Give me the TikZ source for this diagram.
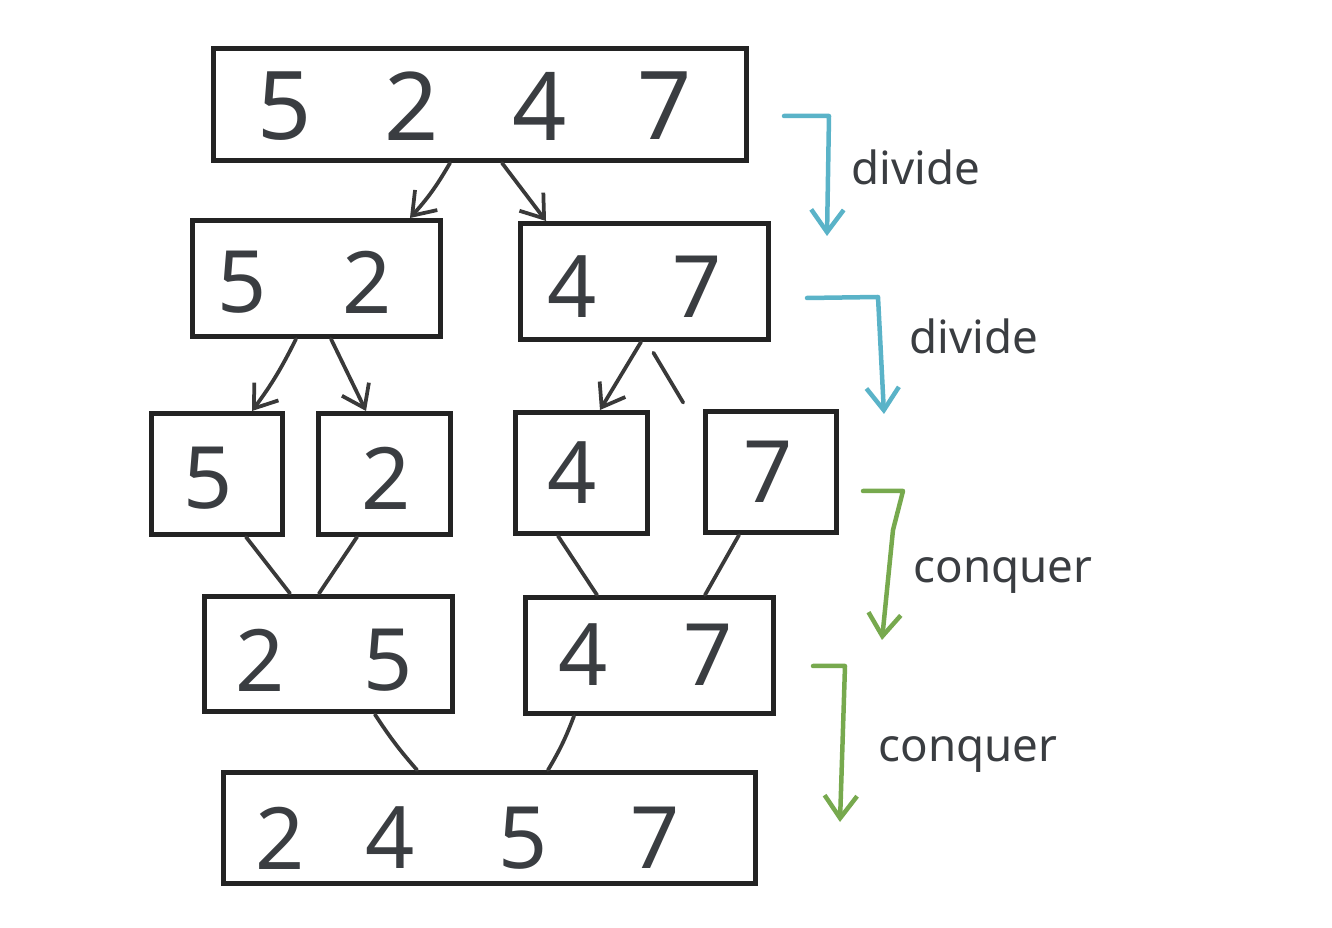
\documentclass[tikz,border=0pt]{standalone}
\usepackage{fontspec}
\setmainfont{Noto Sans}
\usepackage{xcolor}
\usetikzlibrary{arrows.meta}
\definecolor{ink}{HTML}{232323}
\definecolor{numgray}{HTML}{3A3D41}
\definecolor{divblue}{HTML}{5AB3C8}
\definecolor{conqgreen}{HTML}{77A94E}

\begin{document}
\begin{tikzpicture}[
  x=0.02cm, y=-0.02cm,
  box/.style={draw=ink, line width=0.1cm, inner sep=0pt, minimum width=4.96cm, minimum height=2.32cm},
  widebox/.style={box, minimum width=10.66cm, minimum height=2.24cm},
  cell/.style={box, minimum width=2.64cm, minimum height=2.42cm},
  digit/.style={text=numgray, inner sep=0pt, font=\fontsize{49}{56}\selectfont},
  bigdigit/.style={digit, font=\fontsize{54}{62}\selectfont},
  note/.style={text=numgray, anchor=base, inner sep=0pt, font=\fontsize{26}{30}\selectfont},
  link/.style={draw=ink!90, line width=0.075cm, line cap=round},
  arrow/.style={link, -{Straight Barb[length=0.42cm, width=0.6cm]}},
  divarrow/.style={draw=divblue, line width=0.09cm, line cap=round, line join=round, -{Straight Barb[length=0.45cm, width=0.65cm]}},
  conqarrow/.style={divarrow, draw=conqgreen}
]
\useasboundingbox (0,0) rectangle (1332,928);

% boxes
\node[widebox] (top) at (480,104.5) {};
\node[box] (b2l) at (316.5,278.5) {};
\node[box] (b2r) at (644.5,281.5) {};
\node[cell] (b3a) at (217,474) {};
\node[cell] (b3b) at (384.5,474) {};
\node[cell] (b3c) at (581.5,473) {};
\node[cell] (b3d) at (771,472) {};
\node[box] (b4l) at (328.5,654) {};
\node[box] (b4r) at (649.5,655.5) {};
\node[widebox, minimum width=10.64cm, minimum height=2.22cm] (bot) at (489.5,828) {};

% digits
\node[bigdigit] (t1) at (285,106) {5};
\node[bigdigit] (t2) at (412,106) {2};
\node[bigdigit] (t3) at (540,106) {4};
\node[bigdigit] (t4) at (665,106) {7};
\node[digit] (l1) at (242,282) {5};
\node[digit] (l2) at (367,282) {2};
\node[digit] (r1) at (572,287) {4};
\node[digit] (r2) at (697,287) {7};
\node[digit] (s1) at (208,478) {5};
\node[digit] (s2) at (386,478) {2};
\node[digit] (s3) at (572,473) {4};
\node[digit] (s4) at (768,472) {7};
\node[digit] (m1) at (260,660) {2};
\node[digit] (m2) at (388,660) {5};
\node[digit] (n1) at (583,655) {4};
\node[digit] (n2) at (708,655) {7};
\node[digit] (f1) at (280,838) {2};
\node[digit] (f2) at (390,838) {4};
\node[digit] (f3) at (523,838) {5};
\node[digit] (f4) at (655,838) {7};

% divide
\draw[arrow] ([xshift=-0.6cm]top.south) to[bend left=6] ([xshift=1.87cm]b2l.north);
\draw[arrow] ([xshift=0.44cm]top.south) -- ([xshift=-1.97cm]b2r.north);
\draw[arrow] ([xshift=-0.41cm]b2l.south) to[bend left=5] ([xshift=0.7cm]b3a.north);
\draw[arrow] ([xshift=0.29cm]b2l.south) -- ([xshift=-0.37cm]b3b.north);
\draw[arrow] ([xshift=-0.07cm]b2r.south) -- ([xshift=0.37cm]b3c.north);
\draw[link, shorten <=0.25cm, shorten >=0.15cm] ([xshift=0.05cm]b2r.south) -- ([xshift=-1.68cm]b3d.north);

% conquer
\draw[link] ([xshift=0.58cm]b3a.south) -- ([xshift=-0.77cm]b4l.north);
\draw[link] ([xshift=-0.55cm]b3b.south) -- ([xshift=-0.19cm]b4l.north);
\draw[link] ([xshift=-0.47cm]b3c.south) -- ([xshift=-1.05cm]b4r.north);
\draw[link] ([xshift=-0.64cm]b3d.south) -- ([xshift=1.11cm]b4r.north);
\draw[link] ([xshift=0.93cm]b4l.south) to[bend right=4] ([xshift=-1.45cm]bot.north);
\draw[link] ([xshift=-1.51cm]b4r.south) to[bend left=5] ([xshift=1.17cm]bot.north);

% side steps
\coordinate (d1a) at (784,116);
\coordinate (d1b) at (827,236);
\coordinate (d2a) at (807,298);
\coordinate (d2b) at (884,414);
\coordinate (c1a) at (863,491);
\coordinate (c1b) at (882,640);
\coordinate (c2a) at (813,666);
\coordinate (c2b) at (840,822);
\draw[divarrow] (d1a) -- (829,116) -- (d1b);
\draw[divarrow] (d2a) -- (878,297) -- (d2b);
\draw[conqarrow] (c1a) -- (903,491) -- (893,530) -- (c1b);
\draw[conqarrow] (c2a) -- (845,666) -- (c2b);
\node[note] (lab1) at (915.5,185) {divide};
\node[note] (lab2) at (973.5,354) {divide};
\node[note] (lab3) at (1003,583) {conquer};
\node[note] (lab4) at (968,762) {conquer};
\end{tikzpicture}
\end{document}
